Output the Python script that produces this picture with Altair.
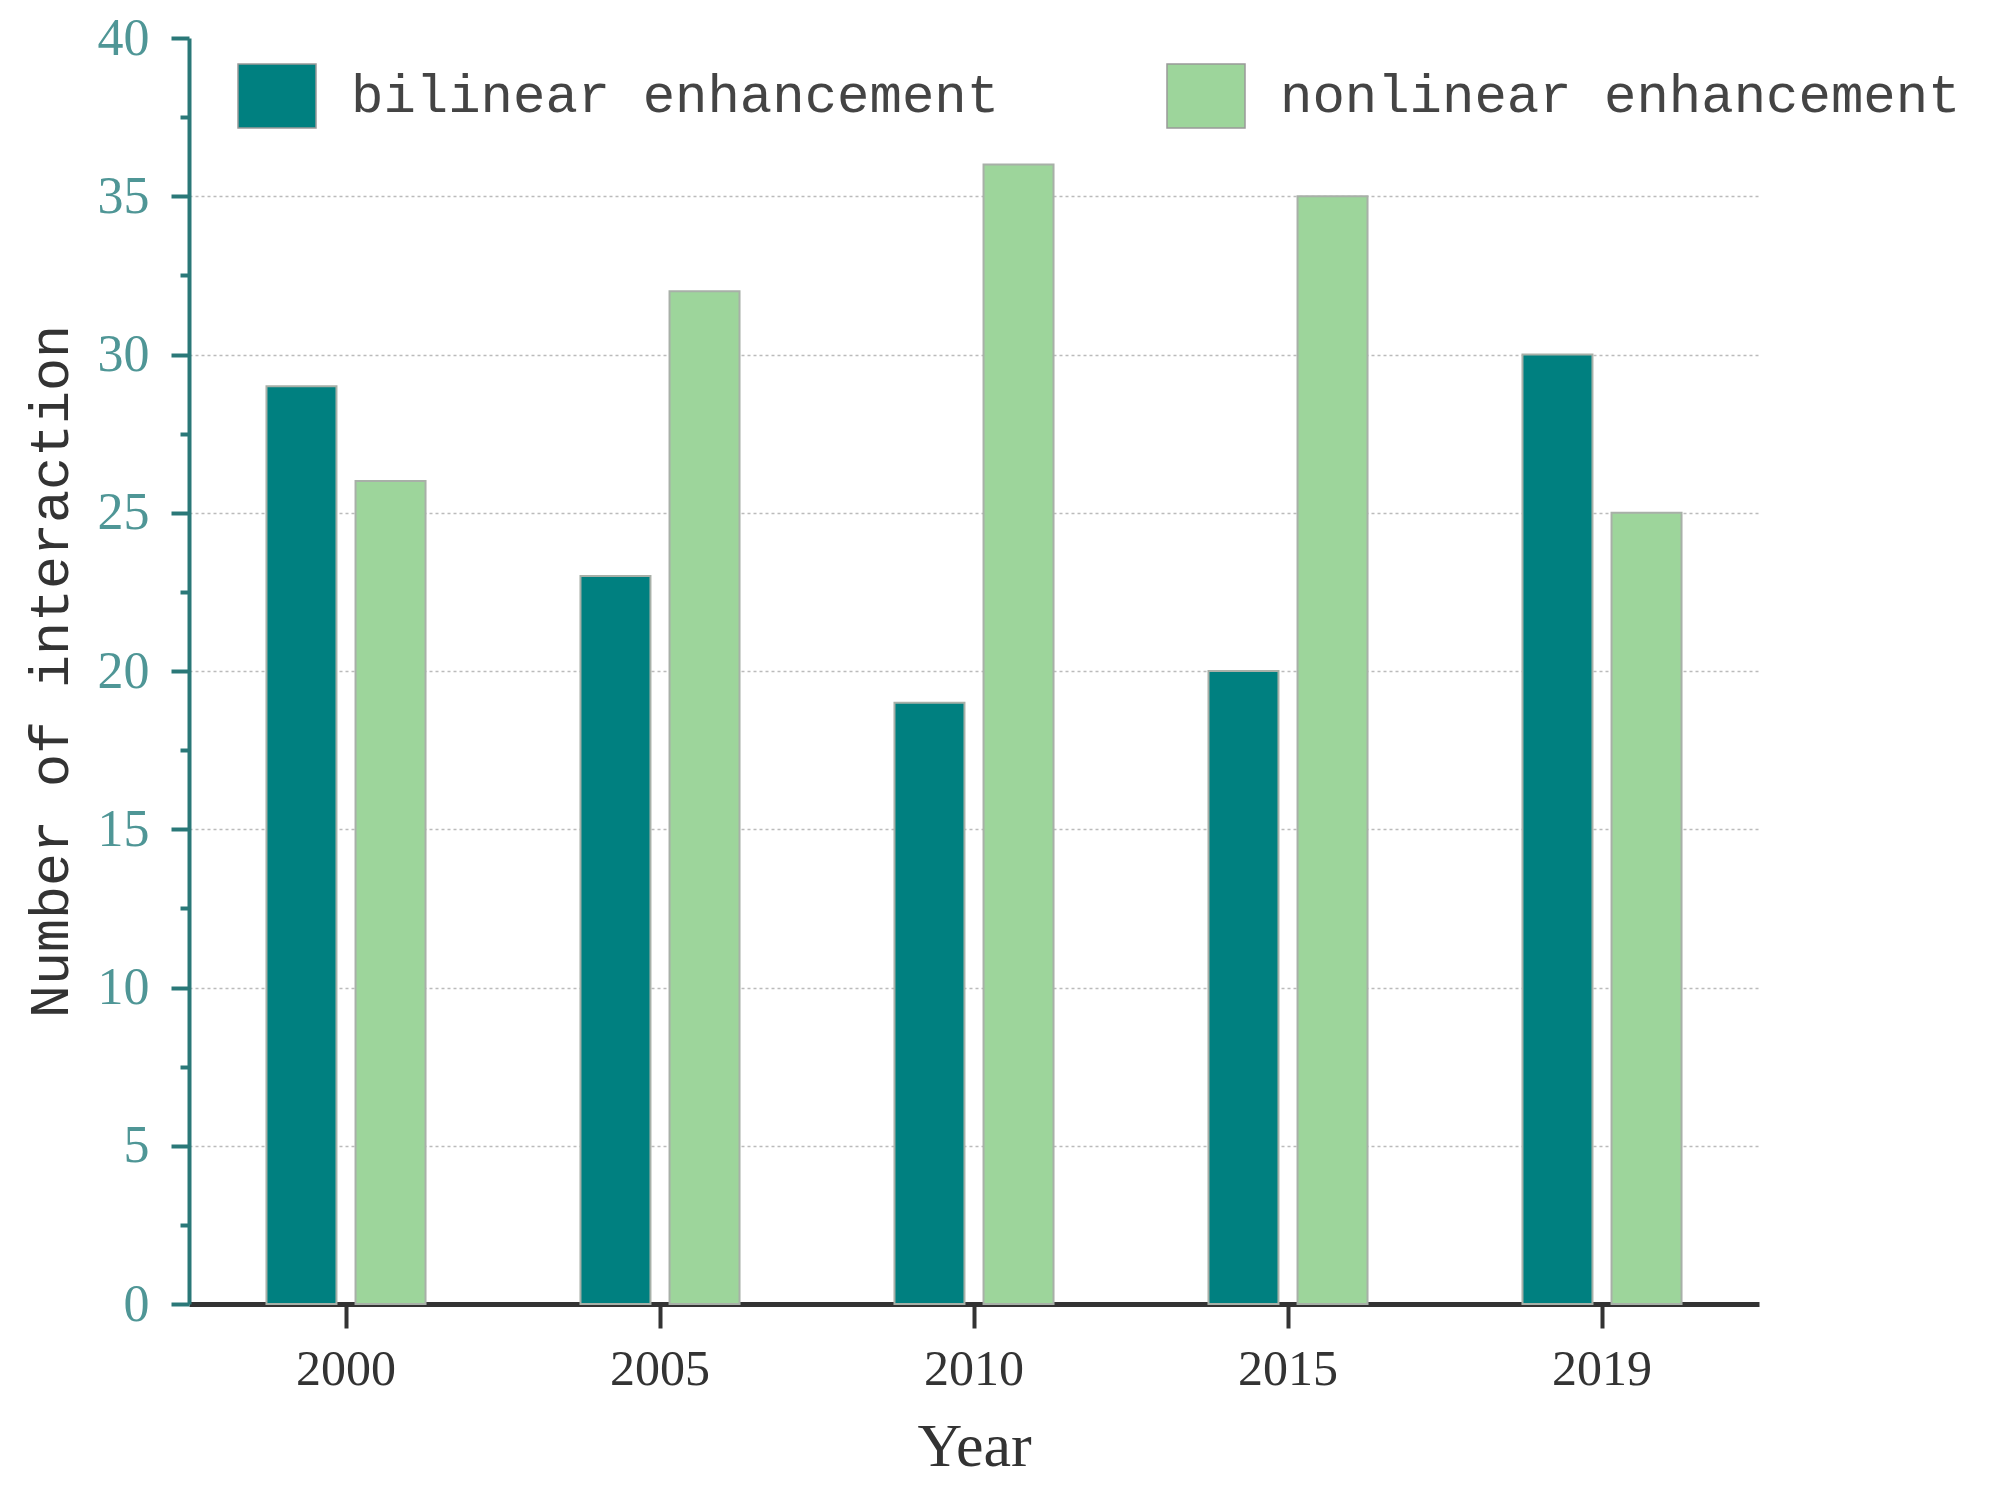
import altair as alt
import pandas as pd

years = ["2000", "2005", "2010", "2015", "2019"]
series = ["bilinear enhancement", "nonlinear enhancement"]
bilinear = [29, 23, 19, 20, 30]
nonlinear = [26, 32, 36, 35, 25]
y_ticks = [0, 2.5, 5, 7.5, 10, 12.5, 15, 17.5, 20, 22.5, 25, 27.5, 30, 32.5, 35, 37.5, 40]
colors = ["#008080", "#9dd59b"]

rows = []
for i, yr in enumerate(years):
    rows.append({"Year": yr, "Type": series[0], "Value": bilinear[i]})
    rows.append({"Year": yr, "Type": series[1], "Value": nonlinear[i]})
df = pd.DataFrame(rows)

chart = alt.Chart(df).mark_bar(stroke="#a8b0a8", strokeWidth=2).encode(
    x=alt.X("Year:N", sort=years,
            scale=alt.Scale(paddingInner=0, paddingOuter=0),
            axis=alt.Axis(title="Year", labelAngle=0,
                          labelFont="Liberation Serif", labelFontSize=50, labelColor="#333333",
                          labelPadding=16,
                          titleFont="Liberation Serif", titleFontSize=62, titleFontWeight="normal",
                          titleColor="#333333", titlePadding=22,
                          domainColor="#333333", domainWidth=5,
                          tickColor="#333333", tickWidth=4, tickSize=24,
                          grid=False)),
    xOffset=alt.XOffset("Type:N", sort=series,
                        scale=alt.Scale(paddingInner=0.214, paddingOuter=0.87)),
    y=alt.Y("Value:Q",
            scale=alt.Scale(domain=[0, 40], nice=False),
            axis=alt.Axis(title="Number of interaction", values=y_ticks,
                          labelExpr="datum.value % 5 === 0 ? datum.label : ''",
                          labelFont="Liberation Serif", labelFontSize=52, labelColor="#4f9696",
                          labelPadding=22,
                          titleFont="Liberation Mono", titleFontSize=55, titleFontWeight="normal",
                          titleColor="#333333", titlePadding=18,
                          domainColor="#2a7878", domainWidth=4,
                          tickColor="#2a7878", tickWidth=4,
                          tickSize={"condition": {"test": "datum.value % 5 === 0", "value": 18}, "value": 9},
                          grid=True, gridColor="#bbbbbb", gridWidth=1.5, gridDash=[3, 3],
                          gridOpacity={"condition": {"test": "datum.value % 5 === 0 && datum.value > 0 && datum.value < 40", "value": 1}, "value": 0})),
    fill=alt.Fill("Type:N", sort=series,
                  scale=alt.Scale(domain=series, range=colors),
                  legend=alt.Legend(orient="none", legendX=48, legendY=18, direction="horizontal",
                                    title=None, symbolType="M-1,-0.82H1V0.82H-1Z", symbolSize=6084,
                                    symbolStrokeColor="#999999", symbolStrokeWidth=1.5, symbolOpacity=1,
                                    labelFont="Liberation Mono", labelFontSize=54, labelColor="#444444",
                                    labelOffset=34, columnPadding=164, labelLimit=0)),
).properties(
    width=1570, height=1266,
    autosize=alt.AutoSizeParams(type="none"),
    padding={"left": 181, "top": 30, "right": 222, "bottom": 186},
).configure_view(strokeWidth=0)

chart.save("out.html", embed_options={"renderer": "svg", "actions": False})
